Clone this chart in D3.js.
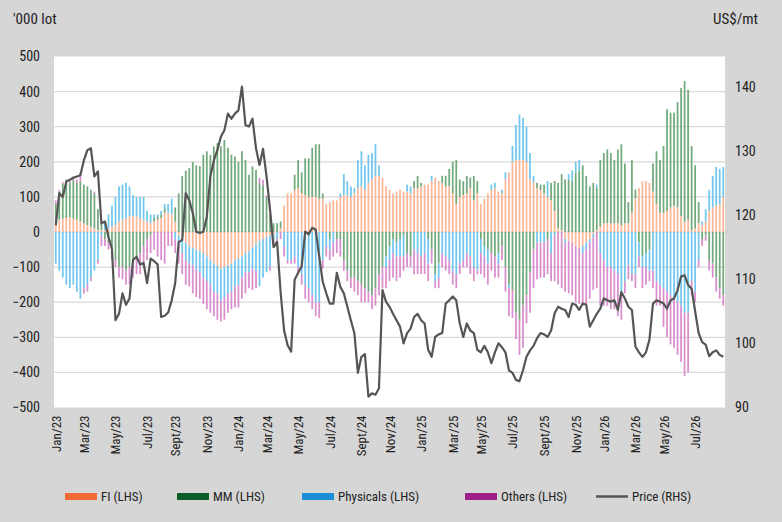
<!DOCTYPE html>
<html>
<head>
<meta charset="utf-8">
<script src="https://cdn.jsdelivr.net/npm/d3@7"></script>
<style>
  body { margin: 0; background: #d6d6d6; }
  svg text { font-family: "Liberation Sans Narrow", "Roboto Condensed", Roboto, sans-serif; fill: #222; }
</style>
</head>
<body>
<div class="CHART"></div>
<script>
// weekly net positions ('000 lot), first week Jan 2023
var fi = [30,35,38,40,42,38,35,30,25,20,15,10,5,5,5,10,
  15,20,30,35,40,45,45,45,40,35,30,25,30,35,40,55,55,50,30,
  -10,-20,-30,-40,-45,-50,-55,-60,-70,-80,-90,-95,-105,-100,-95,-90,-80,-75,-70,-60,-55,-45,-35,
  -25,-20,-15,-10,-5,0,10,
  75,110,110,120,125,110,105,100,100,100,95,95,80,85,90,90,100,105,105,100,110,125,130,120,140,150,160,160,155,130,120,110,115,120,
  115,115,110,125,125,130,135,135,145,155,145,140,130,130,110,80,100,105,110,125,90,110,80,95,110,120,125,115,110,150,170,
  200,205,205,205,200,150,140,125,120,110,100,90,60,10,5,-20,-25,-30,-40,-45,-40,-30,-20,-5,5,15,25,25,25,25,25,
  20,25,25,55,96,125,145,145,140,115,80,55,55,60,70,75,70,45,30,35,5,10,25,20,30,60,70,75,80,100];

var mm = [50,80,100,110,100,110,105,115,110,110,105,100,60,20,-20,-30,
  -60,-80,-100,-100,-110,-100,-90,-70,-60,-40,-20,-10,10,10,10,10,0,0,40,
  110,160,175,182,200,190,188,220,230,220,244,253,244,262,240,220,215,200,230,205,163,187,177,
  139,134,100,50,25,25,20,
  0,0,0,43,80,60,105,110,140,150,155,15,0,-20,0,-20,-20,-80,-110,-130,-130,-140,-150,-160,-170,-180,-160,-120,-100,-70,-40,-20,-30,-20,
  -10,-60,-70,20,35,10,0,-20,-50,-120,-90,20,30,50,90,125,50,40,50,30,70,35,-20,-40,-50,-60,-70,-60,-40,-100,-150,
  -165,-230,-250,-210,-180,-115,-50,15,15,25,-20,50,85,130,160,150,150,145,170,175,190,160,130,140,120,190,200,210,200,180,210,
  230,170,60,150,25,-30,-70,-60,-50,80,150,150,190,290,270,265,300,365,400,370,240,180,60,-20,-10,-80,-90,-130,-160,-180];

var physicals = [-90,-110,-130,-150,-160,-150,-170,-190,-160,-150,-130,-110,-80,-10,25,40,
  60,80,100,100,100,85,60,55,60,65,30,25,10,5,10,15,25,45,-20,
  -30,-40,-50,-50,-50,-55,-60,-70,-70,-70,-80,-80,-90,-85,-80,-80,-75,-75,-60,-55,-60,-60,-75,
  -130,-110,-100,-90,-20,-20,0,
  -40,-80,-80,-70,-100,-120,-150,-160,-180,-200,-200,-80,-40,-30,-30,0,10,60,40,30,15,80,100,70,80,75,90,30,0,-30,-40,-40,-40,-50,
  -60,20,20,-50,-60,-70,-60,-70,15,-20,-40,-60,-70,-80,-110,-120,-90,-80,-60,-70,-100,-110,-40,-30,-40,15,15,-30,10,20,-10,
  45,100,130,120,100,75,20,-30,-30,-30,45,-60,-10,0,0,-10,15,30,30,30,-20,-20,-10,-10,10,-60,-80,-100,-100,-110,-120,
  -170,-140,-95,-120,-120,-40,-30,-40,-60,-110,-140,-150,-160,-170,-180,-190,-200,-210,-230,-230,-140,-170,-80,10,35,60,90,110,100,85];

var others = [10,5,5,0,5,10,10,25,-15,-20,-10,5,-10,-30,-20,-20,
  -20,-20,-30,-35,-40,-50,-40,-50,-60,-60,-60,-50,-50,-70,-80,-90,-40,-40,-40,
  -50,-60,-70,-65,-80,-80,-75,-75,-80,-80,-70,-75,-60,-65,-55,-50,-60,-65,-60,-60,-45,-60,-50,
  15,15,5,-10,-10,-10,-20,
  -30,-10,-10,-20,-20,-30,-40,-40,-40,-40,-45,-25,-30,-30,-40,-40,-50,-30,-30,-30,-40,-40,-50,-40,-30,-40,-50,-60,-60,-60,-60,-70,-70,-60,
  -40,-40,-30,-70,-60,-50,-60,-50,-40,-20,-30,-40,-40,-40,-40,-40,-30,-20,-40,-50,-40,-10,-60,-60,-60,-50,-60,-40,-40,-70,-80,
  -80,-75,-100,-120,-80,-115,-110,-105,-100,-100,-100,-80,-130,-150,-160,-140,-150,-150,-160,-160,-150,-160,-160,-150,-160,-150,-130,-110,-120,-110,-120,
  -80,-35,-40,-20,-40,-30,-60,-50,-30,-50,-70,-60,-110,-130,-140,-140,-150,-160,-180,-170,-40,-30,-20,-20,-15,-30,-40,-40,-30,-30];

// price, US$/mt
var price = [118.4,123.4,122.8,125.2,125.5,125.8,126,126.2,128.5,130.1,130.4,126,126.8,118.7,119,116.6,114.7,
  103.6,104.6,107.8,106,107,113,113.5,112.3,112.5,109.4,113.2,112.8,112.3,104.1,104.3,104.8,
  106.7,109.4,115.8,116.1,123.4,122.3,120.3,117.4,117.2,117.4,119.7,126,128.5,130.1,132.2,133.2,135.8,135,135.8,136.3,140,134,133.8,135,130.4,127.8,130.3,126,120.8,115,115.8,108,102,
  99.7,98.7,109.9,111,112,117.4,117,118,117.7,113.5,109.6,107.8,106.2,106.2,111,108.8,107.8,105.7,103.6,101.6,95.4,97.9,98.3,91.7,92.2,92,93,108.3,106.5,105.7,104.6,103.6,102.6,
  100,101.6,102.3,104.1,104.6,103.6,103.1,99,97.9,101,101.4,101.6,106.2,106.7,107.3,106.7,103.1,101,103.1,102,101.6,99,98.6,99.6,98.6,96.9,98.6,100,99.4,98.6,95.8,
  95.4,94.3,94.1,95.8,97.9,98.9,99.6,100.8,101.6,101.4,101,102,104.7,105.7,105.4,105.2,104.1,106.2,106,105.2,106.2,106,102.6,103.6,104.6,105.4,107,106.7,106.5,106.7,105.2,
  108,107,105.7,105.2,99.5,98.6,97.9,98.6,100.6,106.2,106.7,106.5,106.2,105.4,106.7,107,108.3,110.4,110.6,109.1,108.5,105,101.6,100.2,99.8,98,98.6,98.9,98.2,97.9];

var seriesNames = ["FI (LHS)", "MM (LHS)", "Physicals (LHS)", "Others (LHS)"];
var barColors = ["#fbb797", "#72aa7c", "#72c7ee", "#d98ecd"];
var legendColors = ["#f26a35", "#0b5e28", "#1a8fd6", "#a0208a"];
var monthLabels = ["Jan/23","Mar/23","May/23","Jul/23","Sept/23","Nov/23","Jan/24","Mar/24","May/24","Jul/24","Sept/24","Nov/24",
  "Jan/25","Mar/25","May/25","Jul/25","Sept/25","Nov/25","Jan/26","Mar/26","May/26","Jul/26"];
var leftTicks = [500,400,300,200,100,0,-100,-200,-300,-400,-500];
var rightTicks = [90,100,110,120,130,140];

var W = 782, H = 522;
var plot = {left: 54, right: 725, top: 56.5, bottom: 407.5};

var svg = d3.select(".CHART").append("svg").attr("width", W).attr("height", H);
svg.append("rect").attr("width", W).attr("height", H).attr("fill", "#d6d6d6");
svg.append("rect").attr("x", plot.left).attr("y", plot.top)
  .attr("width", plot.right - plot.left).attr("height", plot.bottom - plot.top).attr("fill", "#fff");

var rows = fi.map(function(d, i) {
  return {i: i, date: d3.timeWeek.offset(new Date(2023, 0, 6), i), fi: d, mm: mm[i], ph: physicals[i], ot: others[i], price: price[i]};
});

var x = d3.scaleBand().domain(rows.map(function(d) { return d.i; }))
  .range([plot.left, plot.right]).paddingInner(0.5).paddingOuter(0.25);
var y = d3.scaleLinear().domain([-500, 500]).range([plot.bottom, plot.top]);
var y2 = d3.scaleLinear().domain([90, 144.7]).range([plot.bottom, plot.top]);

// gridlines
svg.append("g").selectAll("line").data(leftTicks.slice(1, -1)).join("line")
  .attr("x1", plot.left).attr("x2", plot.right)
  .attr("y1", function(d) { return y(d); }).attr("y2", function(d) { return y(d); })
  .attr("stroke", "#d9d9d9").attr("stroke-width", 1.2);

var keys = ["fi", "mm", "ph", "ot"];
var stack = d3.stack().keys(keys).offset(d3.stackOffsetDiverging)(rows);

svg.append("g").selectAll("g").data(stack).join("g")
  .attr("fill", function(d, k) { return barColors[k]; })
  .selectAll("rect").data(function(d) { return d; }).join("rect")
  .attr("x", function(d) { return x(d.data.i); })
  .attr("width", x.bandwidth())
  .attr("y", function(d) { return y(Math.max(d[0], d[1])); })
  .attr("height", function(d) { return Math.abs(y(d[0]) - y(d[1])); });

var line = d3.line()
  .x(function(d) { return x(d.i) + x.bandwidth() / 2; })
  .y(function(d) { return y2(d.price); });
svg.append("path").datum(rows).attr("d", line)
  .attr("fill", "none").attr("stroke", "#555").attr("stroke-width", 2.2).attr("stroke-linejoin", "round");

// axes
var leftAxis = d3.axisLeft(y).tickValues(leftTicks).tickSize(0).tickPadding(14);
var gl = svg.append("g").attr("transform", "translate(" + plot.left + ",0)").call(leftAxis);
var rightAxis = d3.axisRight(y2).tickValues(rightTicks).tickSize(0).tickPadding(10);
var gr = svg.append("g").attr("transform", "translate(" + plot.right + ",0)").call(rightAxis);
[gl, gr].forEach(function(g) {
  g.select(".domain").remove();
  g.selectAll("text").attr("font-size", 14).style("font-family", null);
});

// month labels at first week of every other month
var tickIdx = monthLabels.map(function(lbl, k) {
  var m = new Date(2023, k * 2, 1);
  return d3.bisector(function(d) { return d.date; }).left(rows, m);
});
svg.append("g").selectAll("text").data(monthLabels).join("text")
  .attr("transform", function(d, k) {
    var i = Math.min(tickIdx[k], rows.length - 1);
    return "translate(" + (x(i) + x.bandwidth() / 2 + 5) + "," + (plot.bottom + 8) + ") rotate(-90)";
  })
  .attr("text-anchor", "end").attr("font-size", 13).text(function(d) { return d; });

svg.append("text").attr("x", 13).attr("y", 24).attr("font-size", 15).text("'000 lot");
svg.append("text").attr("x", 758).attr("y", 24).attr("text-anchor", "end").attr("font-size", 15).text("US$/mt");

// legend
var legX = [65, 177, 302, 465];
var leg = svg.append("g");
seriesNames.forEach(function(name, k) {
  leg.append("rect").attr("x", legX[k]).attr("y", 493).attr("width", 32).attr("height", 7).attr("fill", legendColors[k]);
  leg.append("text").attr("x", legX[k] + 36).attr("y", 501).attr("font-size", 13).text(name);
});
leg.append("line").attr("x1", 596).attr("x2", 628).attr("y1", 496.5).attr("y2", 496.5)
  .attr("stroke", "#555").attr("stroke-width", 2.5);
leg.append("text").attr("x", 632).attr("y", 501).attr("font-size", 13).text("Price (RHS)");
</script>
</body>
</html>
